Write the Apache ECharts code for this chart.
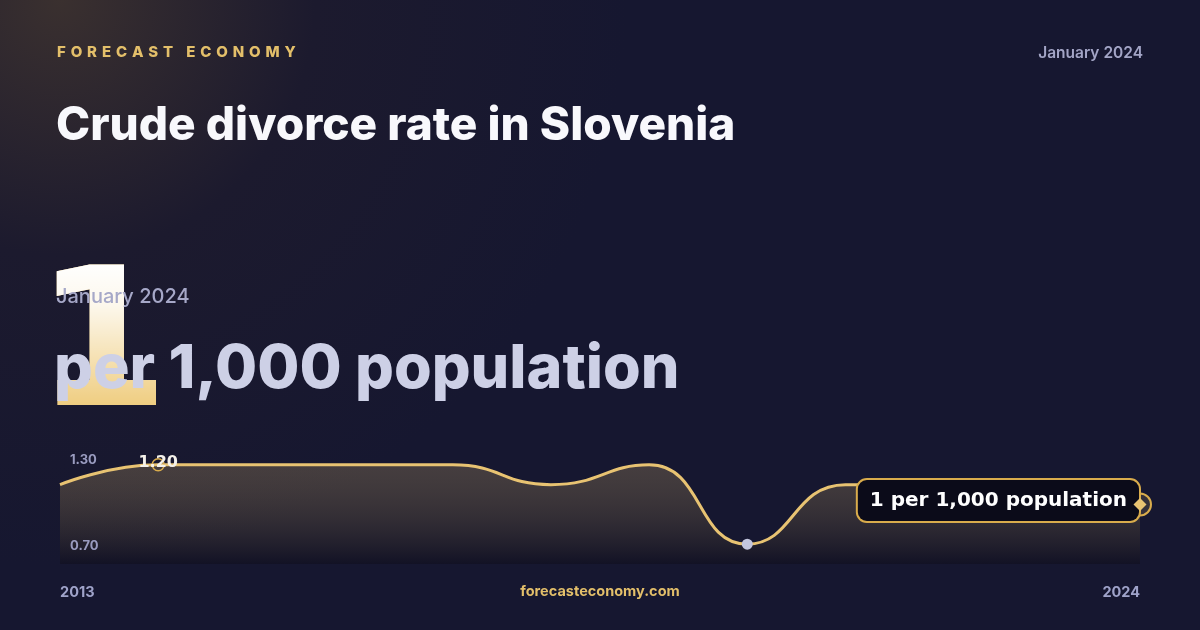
<!DOCTYPE html>
<html>
<head>
<meta charset="utf-8">
<style>
html,body{margin:0;padding:0;background:#16162c;}
#chart{width:1200px;height:630px;}
</style>
<script src="https://cdn.jsdelivr.net/npm/echarts@6/dist/echarts.min.js"></script>
</head>
<body>
<div id="chart"></div>
<script>
// ---- data ----
const years = ['2013','2014','2015','2016','2017','2018','2019','2020','2021','2022','2023','2024'];
const rates = [1.1, 1.2, 1.2, 1.2, 1.2, 1.1, 1.2, 0.8, 1.1, 1.1, 1.0, 1.0];
const yTickLabels = ['1.30', '0.70'];
const yMin = 0.7, yMax = 1.3;
const brand = 'FORECAST ECONOMY';
const title = 'Crude divorce rate in Slovenia';
const period = 'January 2024';
const headline = '1';
const unit = 'per 1,000 population';
const endLabel = '1 per 1,000 population';
const site = 'forecasteconomy.com';

const GOLD = '#e8c372';
const FONT = 'Inter, "Noto Sans", sans-serif';
const FB = '"DejaVu Sans", sans-serif';

let maxIdx = 0, minIdx = 0;
rates.forEach((v, i) => { if (v > rates[maxIdx]) maxIdx = i; if (v < rates[minIdx]) minIdx = i; });
const lastIdx = rates.length - 1;

const seriesData = rates.map((v, i) => {
  const d = { value: v, symbolSize: 0, itemStyle: { opacity: 0 } };
  if (i === maxIdx) {
    d.symbolSize = 12;
    d.itemStyle = { color: 'rgba(0,0,0,0)', borderColor: '#d9ac4c', borderWidth: 1.5, opacity: 1 };
    d.label = { show: true, position: 'top', distance: -13, formatter: v.toFixed(2),
      color: '#f4f1ea', fontSize: 16, fontWeight: 700, fontFamily: FB };
  }
  if (i === minIdx) {
    d.symbolSize = 11;
    d.itemStyle = { color: '#c3c6de', borderWidth: 0, opacity: 1 };
  }
  if (i === lastIdx) {
    d.symbolSize = 22;
    d.itemStyle = { color: 'rgba(232,195,114,0.15)', borderColor: '#d9ac4c', borderWidth: 2, opacity: 1 };
    d.label = { show: true, position: 'left', distance: -11, offset: [0, -4], formatter: endLabel,
      color: '#ffffff', fontSize: 20, fontWeight: 700, fontFamily: FB,
      backgroundColor: '#0b0b19', borderColor: '#d9ac4c', borderWidth: 2, borderRadius: 9,
      padding: [11, 12, 10, 12] };
  }
  return d;
});

const spaced = brand.split('').join('\u2005\u200A');
const digitStyle = { text: headline, x: 35, y: 258, align: 'left', verticalAlign: 'top',
  font: '700 193px ' + FB, fill: '#efcd80' };

const chart = echarts.init(document.getElementById('chart'), null, { renderer: 'canvas' });
chart.setOption({
  animation: false,
  backgroundColor: {
    type: 'radial', x: 0.05, y: 0.0, r: 0.9,
    colorStops: [
      { offset: 0, color: '#3a302f' },
      { offset: 0.45, color: '#1c1a2e' },
      { offset: 1, color: '#161730' }
    ]
  },
  grid: { left: 60, right: 60, top: 445, bottom: 66 },
  xAxis: {
    type: 'category', data: years, boundaryGap: false,
    axisLine: { show: false }, axisTick: { show: false }, splitLine: { show: false },
    axisLabel: {
      interval: (i) => i === 0 || i === years.length - 1,
      color: '#9fa3c9', fontSize: 14.5, fontWeight: 700, fontFamily: FONT, margin: 21,
      alignMinLabel: 'left', alignMaxLabel: 'right'
    }
  },
  yAxis: {
    type: 'value', min: yMin, max: yMax,
    axisLine: { show: false }, axisTick: { show: false }, splitLine: { show: false },
    axisLabel: { show: false }
  },
  series: [{
    type: 'line', data: seriesData, smooth: 0.5,
    symbol: 'circle',
    lineStyle: { color: GOLD, width: 3 },
    areaStyle: {
      color: { type: 'linear', x: 0, y: 0, x2: 0, y2: 1,
        colorStops: [ { offset: 0, color: 'rgba(232,195,114,0.32)' }, { offset: 1, color: 'rgba(12,10,20,0.55)' } ] }
    },
    markPoint: {
      symbol: 'diamond', symbolSize: 13, silent: true,
      itemStyle: { color: GOLD },
      label: { show: false },
      data: [{ coord: [years[lastIdx], rates[lastIdx]] }]
    },
    z: 3
  }],
  graphic: [
    { type: 'text', left: 57, top: 45, z: 10,
      style: { text: spaced, fill: '#e3bf6a', font: '800 15px ' + FONT } },
    { type: 'text', right: 57, top: 45, z: 10,
      style: { text: period, fill: '#a3a5c6', font: '600 15.5px ' + FONT } },
    { type: 'text', left: 56, top: 103, z: 10,
      style: { text: title, fill: '#f8f8fc', font: '800 46px ' + FONT } },
    // shadow copy of the headline digit on the base layer
    { type: 'text', x: 0, y: 0, z: 5, silent: true,
      style: Object.assign({}, digitStyle, {
        shadowBlur: 24, shadowColor: 'rgba(0,0,0,0.6)', shadowOffsetX: 6, shadowOffsetY: 8 }) },
    // headline digit on its own transparent layer, tinted white at the top
    { type: 'text', x: 0, y: 0, z: 1, zlevel: 1, silent: true,
      style: Object.assign({}, digitStyle) },
    { type: 'rect', x: 0, y: 0, z: 2, zlevel: 1, silent: true,
      shape: { x: 30, y: 262, width: 150, height: 144 },
      style: { blend: 'source-atop',
        fill: { type: 'linear', x: 0, y: 0, x2: 0, y2: 1,
          colorStops: [ { offset: 0, color: 'rgba(255,255,255,1)' }, { offset: 0.3, color: 'rgba(255,255,255,0.85)' }, { offset: 1, color: 'rgba(255,255,255,0)' } ] } } },
    { type: 'text', left: 56, top: 287, z: 10, zlevel: 2,
      style: { text: period, fill: '#a6a8c8', font: '500 20px ' + FONT } },
    { type: 'text', left: 54, top: 339, z: 10, zlevel: 2,
      style: { text: unit, fill: '#cdd0e6', font: '800 61px ' + FONT } },
    { type: 'text', left: 70, top: 454, z: 10,
      style: { text: yTickLabels[0], fill: '#9a9cc0', font: '700 13px ' + FONT } },
    { type: 'text', left: 70, top: 540, z: 10,
      style: { text: yTickLabels[1], fill: '#9a9cc0', font: '700 13px ' + FONT } },
    { type: 'text', left: 'center', top: 584, z: 10,
      style: { text: site, fill: '#e3bf6a', font: '700 14.5px ' + FONT } }
  ]
});
</script>
</body>
</html>
